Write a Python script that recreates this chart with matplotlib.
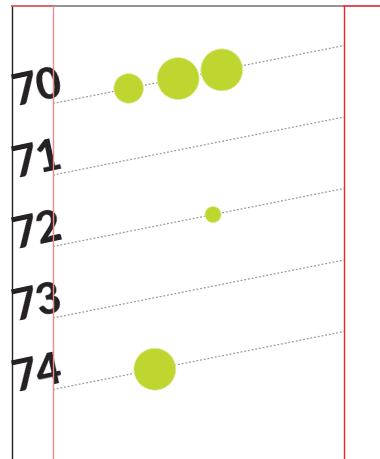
import numpy as np
import matplotlib
matplotlib.use("Agg")
import matplotlib.pyplot as plt
from matplotlib.transforms import Affine2D
from matplotlib.lines import Line2D

# ---- data ----
categories = ["70", "71", "72", "73", "74"]
bubble_cat = ["70", "70", "70", "72", "74"]
bubble_x = [26, 43, 58, 55, 35]          # position along each row (0-100)
bubble_size = [10, 20, 20, 3, 20]        # relative bubble area

W, H = 380, 460
DPI = 100
fig = plt.figure(figsize=(W / DPI, H / DPI), dpi=DPI)
fig.patch.set_facecolor("white")

# plot area in pixel terms
x0_px, x1_px = 53, 344
top_px, bot_px = 7, 460
ax = fig.add_axes([x0_px / W, 0, (x1_px - x0_px) / W, (bot_px - top_px) / H])
ax.set_xlim(0, 100)
first_px, step_px = 104.5, 71.5
ax.set_ylim((bot_px - first_px) / step_px, (top_px - first_px) / step_px)
ax.axis("off")

# shear: rows rise toward the right
rise = 58.0 / 291.0
x0_disp = x0_px
shear = Affine2D().translate(-x0_disp, 0).skew(0, np.arctan(rise)).translate(x0_disp, 0)
T = ax.transData + shear

ypos = {c: i for i, c in enumerate(categories)}

# dotted row lines
for c in categories:
    ax.plot([0, 100], [ypos[c], ypos[c]], transform=T, color="#9a9a9a",
            linestyle=(0, (1.5, 1.5)), linewidth=0.9, clip_on=False)

# bubbles
max_r_px = 21.0
rad_px = [max_r_px * np.sqrt(v / max(bubble_size)) for v in bubble_size]
s = [(2 * r * 72.0 / DPI) ** 2 for r in rad_px]
ax.scatter(bubble_x, [ypos[c] for c in bubble_cat], s=s, transform=T,
           color="#bfd631", edgecolor="#e6efb0", linewidth=0.5, zorder=3,
           clip_on=False)

# row labels
for c in categories:
    ax.annotate(c, xy=(0, ypos[c]), xycoords=T, xytext=(-16, 16),
                textcoords="offset pixels", ha="center", va="center",
                rotation=12, fontsize=31, fontweight="black",
                color="#231f20", family=["Lato", "DejaVu Sans"],
                annotation_clip=False)

# frame lines (figure pixel coords)
def fl(xs, ys, **kw):
    fig.add_artist(Line2D([x / W for x in xs], [1 - y / H for y in ys],
                          transform=fig.transFigure, **kw))

fl([12, 12], [top_px, H], color="#231f20", linewidth=1.0)
fl([12, x0_px], [top_px, top_px], color="#d9595c", linewidth=1.3)
fl([x0_px, x1_px], [top_px, top_px], color="#8a8a8a", linewidth=1.3)
fl([x1_px, W], [top_px, top_px], color="#d94048", linewidth=1.3)
fl([x0_px, x0_px], [top_px, H], color="#f08a8c", linewidth=1.0)
fl([x1_px, x1_px], [top_px, H], color="#ee2228", linewidth=1.0)

fig.savefig("out.png", dpi=DPI, facecolor="white")
